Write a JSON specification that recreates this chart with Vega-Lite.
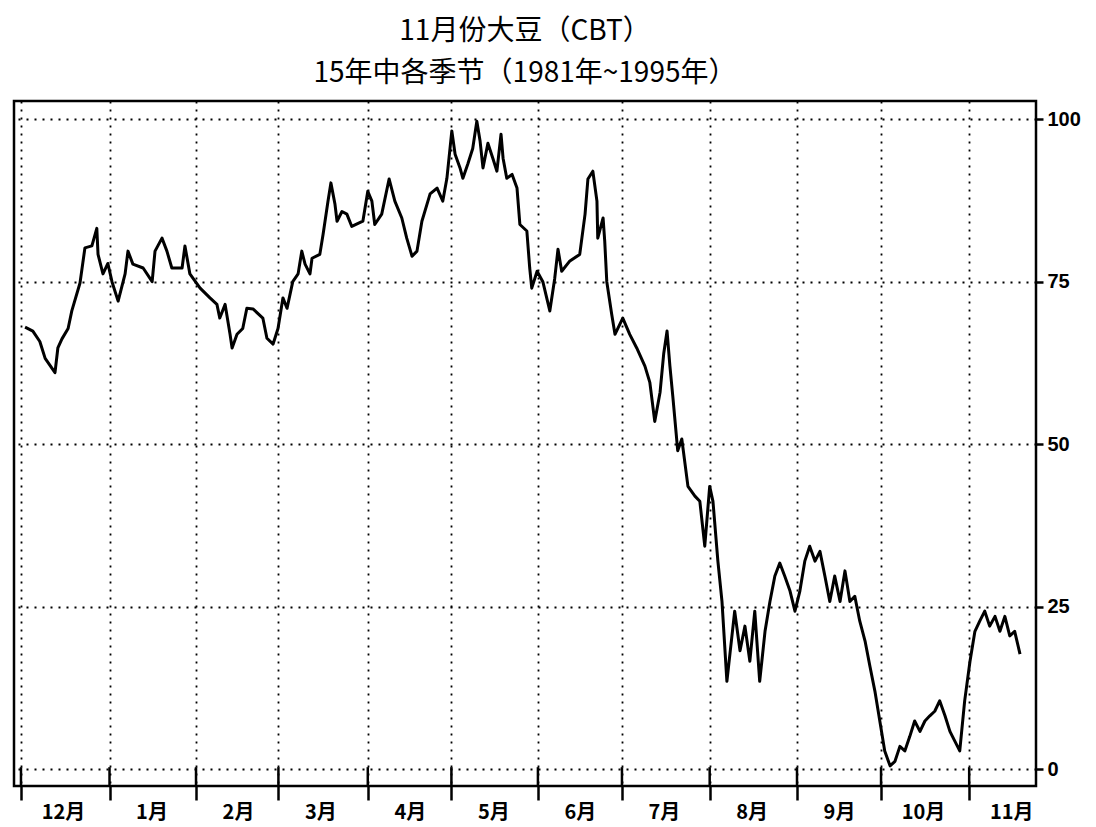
{
  "$schema": "https://vega.github.io/schema/vega-lite/v6.json",
  "width": 1022,
  "height": 685,
  "padding": {"left": 14, "top": 18, "right": 5, "bottom": 5},
  "background": "white",
  "title": {
    "text": ["11月份大豆（CBT）", "15年中各季节（1981年~1995年）"],
    "font": "Noto Sans CJK SC",
    "fontSize": 28,
    "fontWeight": "normal",
    "lineHeight": 42,
    "color": "black",
    "anchor": "middle",
    "offset": 13
  },
  "config": {
    "view": {"stroke": "black", "strokeWidth": 2.5},
    "axis": {
      "gridColor": "black",
      "gridDash": [2, 6],
      "gridWidth": 1.8,
      "gridOpacity": 1,
      "tickColor": "black",
      "domain": false,
      "labelColor": "black",
      "title": null
    }
  },
  "datasets": {
    "bounds": [
      {"b": 0}, {"b": 21.6}, {"b": 42.7}, {"b": 62.8}, {"b": 84.6}, {"b": 105},
      {"b": 126.1}, {"b": 146.6}, {"b": 168}, {"b": 189.3}, {"b": 209.8}, {"b": 231.3}
    ],
    "series": [
      {"d": 1.0, "v": 68.0}, {"d": 2.9, "v": 67.4}, {"d": 4.6, "v": 65.8}, {"d": 5.9, "v": 63.2},
      {"d": 8.3, "v": 61.0}, {"d": 9.0, "v": 64.8}, {"d": 10.0, "v": 66.2}, {"d": 11.5, "v": 67.8},
      {"d": 12.4, "v": 70.5}, {"d": 14.4, "v": 74.8}, {"d": 15.6, "v": 80.2}, {"d": 17.3, "v": 80.5},
      {"d": 18.5, "v": 83.2}, {"d": 18.8, "v": 79.2}, {"d": 20.0, "v": 76.2}, {"d": 21.2, "v": 77.8},
      {"d": 22.2, "v": 75.0}, {"d": 23.7, "v": 72.0}, {"d": 25.4, "v": 76.2}, {"d": 26.1, "v": 79.7},
      {"d": 27.3, "v": 77.7}, {"d": 29.8, "v": 77.1}, {"d": 32.0, "v": 75.0}, {"d": 32.7, "v": 79.7},
      {"d": 34.4, "v": 81.7}, {"d": 35.6, "v": 79.7}, {"d": 36.8, "v": 77.1}, {"d": 39.3, "v": 77.1},
      {"d": 40.0, "v": 80.5}, {"d": 41.2, "v": 76.2}, {"d": 43.7, "v": 74.0}, {"d": 46.1, "v": 72.5},
      {"d": 47.8, "v": 71.5}, {"d": 48.5, "v": 69.4}, {"d": 49.8, "v": 71.5}, {"d": 51.0, "v": 66.9},
      {"d": 51.5, "v": 64.8}, {"d": 52.7, "v": 66.9}, {"d": 54.1, "v": 67.8}, {"d": 55.1, "v": 70.9},
      {"d": 56.6, "v": 70.8}, {"d": 59.0, "v": 69.4}, {"d": 60.0, "v": 66.3}, {"d": 61.5, "v": 65.4},
      {"d": 62.7, "v": 67.8}, {"d": 63.9, "v": 72.5}, {"d": 64.9, "v": 70.9}, {"d": 66.3, "v": 75.0},
      {"d": 67.6, "v": 76.2}, {"d": 68.5, "v": 79.7}, {"d": 69.3, "v": 77.7}, {"d": 70.5, "v": 76.2},
      {"d": 71.0, "v": 78.6}, {"d": 72.9, "v": 79.2}, {"d": 73.7, "v": 82.3}, {"d": 74.9, "v": 87.4},
      {"d": 75.6, "v": 90.2}, {"d": 76.6, "v": 86.9}, {"d": 77.1, "v": 84.3}, {"d": 78.3, "v": 85.8},
      {"d": 79.5, "v": 85.4}, {"d": 80.7, "v": 83.5}, {"d": 83.4, "v": 84.3}, {"d": 84.6, "v": 88.9},
      {"d": 85.6, "v": 87.4}, {"d": 86.3, "v": 83.8}, {"d": 88.0, "v": 85.4}, {"d": 89.8, "v": 90.8},
      {"d": 91.2, "v": 87.4}, {"d": 92.9, "v": 84.8}, {"d": 94.1, "v": 81.7}, {"d": 95.4, "v": 78.9},
      {"d": 96.6, "v": 79.7}, {"d": 97.8, "v": 84.3}, {"d": 99.8, "v": 88.5}, {"d": 101.5, "v": 89.4},
      {"d": 102.9, "v": 87.4}, {"d": 103.9, "v": 90.9}, {"d": 105.1, "v": 98.2}, {"d": 105.9, "v": 94.6},
      {"d": 107.1, "v": 92.5}, {"d": 107.8, "v": 90.9}, {"d": 109.0, "v": 93.1}, {"d": 110.2, "v": 95.5},
      {"d": 111.2, "v": 99.7}, {"d": 112.0, "v": 96.6}, {"d": 112.7, "v": 92.5}, {"d": 113.9, "v": 96.3},
      {"d": 115.1, "v": 94.0}, {"d": 116.1, "v": 92.0}, {"d": 117.1, "v": 97.7}, {"d": 117.6, "v": 94.0},
      {"d": 118.5, "v": 90.9}, {"d": 119.8, "v": 91.5}, {"d": 121.0, "v": 89.4}, {"d": 121.7, "v": 83.8},
      {"d": 123.4, "v": 82.8}, {"d": 124.1, "v": 77.1}, {"d": 124.6, "v": 74.0}, {"d": 125.9, "v": 76.6},
      {"d": 127.3, "v": 75.0}, {"d": 129.0, "v": 70.5}, {"d": 130.2, "v": 75.5}, {"d": 131.0, "v": 80.0},
      {"d": 131.9, "v": 76.6}, {"d": 133.9, "v": 78.2}, {"d": 136.3, "v": 79.2}, {"d": 137.6, "v": 85.4},
      {"d": 138.3, "v": 90.8}, {"d": 139.5, "v": 92.0}, {"d": 140.5, "v": 87.4}, {"d": 140.7, "v": 81.7},
      {"d": 142.0, "v": 84.8}, {"d": 142.4, "v": 81.2}, {"d": 142.9, "v": 75.0}, {"d": 144.1, "v": 70.0},
      {"d": 144.9, "v": 66.9}, {"d": 146.8, "v": 69.4}, {"d": 148.5, "v": 66.9}, {"d": 150.2, "v": 64.8},
      {"d": 152.2, "v": 62.0}, {"d": 153.4, "v": 59.5}, {"d": 154.6, "v": 53.5}, {"d": 155.9, "v": 58.0},
      {"d": 156.8, "v": 64.0}, {"d": 157.6, "v": 67.4}, {"d": 158.3, "v": 62.0}, {"d": 159.0, "v": 57.4},
      {"d": 160.2, "v": 49.0}, {"d": 161.2, "v": 50.8}, {"d": 162.7, "v": 43.5}, {"d": 164.4, "v": 42.0},
      {"d": 165.6, "v": 41.2}, {"d": 166.8, "v": 34.3}, {"d": 168.0, "v": 43.5}, {"d": 168.8, "v": 41.2},
      {"d": 170.0, "v": 32.0}, {"d": 171.0, "v": 25.8}, {"d": 172.2, "v": 13.5}, {"d": 174.1, "v": 24.3},
      {"d": 175.4, "v": 18.2}, {"d": 176.6, "v": 22.0}, {"d": 177.8, "v": 16.6}, {"d": 179.0, "v": 24.3},
      {"d": 180.2, "v": 13.5}, {"d": 181.5, "v": 21.2}, {"d": 182.7, "v": 25.8}, {"d": 183.9, "v": 29.7},
      {"d": 185.1, "v": 31.7}, {"d": 186.3, "v": 29.7}, {"d": 187.6, "v": 27.4}, {"d": 188.8, "v": 24.3},
      {"d": 190.0, "v": 27.4}, {"d": 191.2, "v": 32.0}, {"d": 192.4, "v": 34.3}, {"d": 193.7, "v": 32.0},
      {"d": 194.9, "v": 33.5}, {"d": 196.1, "v": 29.7}, {"d": 197.3, "v": 25.8}, {"d": 198.5, "v": 29.7},
      {"d": 199.8, "v": 25.8}, {"d": 201.0, "v": 30.5}, {"d": 202.2, "v": 25.8}, {"d": 203.4, "v": 26.6},
      {"d": 204.6, "v": 22.8}, {"d": 205.9, "v": 19.7}, {"d": 207.1, "v": 15.8}, {"d": 208.3, "v": 12.0},
      {"d": 209.5, "v": 7.4}, {"d": 210.7, "v": 2.8}, {"d": 212.0, "v": 0.5}, {"d": 213.2, "v": 1.2},
      {"d": 214.4, "v": 3.5}, {"d": 215.6, "v": 2.8}, {"d": 216.8, "v": 5.0}, {"d": 218.0, "v": 7.4},
      {"d": 219.3, "v": 5.8}, {"d": 220.5, "v": 7.4}, {"d": 221.7, "v": 8.2}, {"d": 222.9, "v": 8.9},
      {"d": 224.1, "v": 10.5}, {"d": 225.4, "v": 8.2}, {"d": 226.6, "v": 5.8}, {"d": 227.8, "v": 4.3},
      {"d": 229.0, "v": 2.8}, {"d": 230.2, "v": 10.5}, {"d": 231.5, "v": 16.6}, {"d": 232.7, "v": 21.2},
      {"d": 233.9, "v": 22.8}, {"d": 235.1, "v": 24.3}, {"d": 236.3, "v": 22.0}, {"d": 237.6, "v": 23.5},
      {"d": 238.8, "v": 21.2}, {"d": 240.0, "v": 23.5}, {"d": 241.2, "v": 20.5}, {"d": 242.4, "v": 21.2},
      {"d": 243.7, "v": 17.7}
    ]
  },
  "layer": [
    {
      "data": {"name": "bounds"},
      "mark": {"type": "rule", "color": "black", "strokeWidth": 2.5},
      "encoding": {
        "x": {"field": "b", "type": "quantitative", "scale": {"domain": [-1.7, 247.6], "nice": false, "zero": false}},
        "y": {"datum": -2.6, "type": "quantitative", "scale": {"domain": [-2.6, 102.8], "nice": false, "zero": false}},
        "y2": {"datum": 0.3}
      }
    },
    {
      "data": {"name": "series"},
      "mark": {"type": "line", "color": "black", "strokeWidth": 3, "strokeJoin": "round"},
      "encoding": {
        "x": {
          "field": "d",
          "type": "quantitative",
          "scale": {"domain": [-1.7, 247.6], "nice": false, "zero": false},
          "axis": {
            "values": [0, 21.6, 42.7, 62.8, 84.6, 105, 126.1, 146.6, 168, 189.3, 209.8, 231.3],
            "labelExpr": "datum.value < 10 ? '12月' : datum.value < 30 ? '1月' : datum.value < 50 ? '2月' : datum.value < 70 ? '3月' : datum.value < 95 ? '4月' : datum.value < 115 ? '5月' : datum.value < 135 ? '6月' : datum.value < 155 ? '7月' : datum.value < 180 ? '8月' : datum.value < 200 ? '9月' : datum.value < 220 ? '10月' : '11月'",
            "labelOffset": 42,
            "labelFont": "Noto Sans CJK SC",
            "labelFontWeight": "bold",
            "labelFontSize": 20,
            "labelPadding": 2,
            "labelOverlap": false,
            "labelFlush": false,
            "labelBound": false,
            "tickSize": 14,
            "tickWidth": 2.5,
            "grid": true
          }
        },
        "y": {
          "field": "v",
          "type": "quantitative",
          "scale": {"domain": [-2.6, 102.8], "nice": false, "zero": false},
          "axis": {
            "orient": "right",
            "values": [0, 25, 50, 75, 100],
            "labelFont": "Liberation Sans",
            "labelFontSize": 20,
            "labelFontWeight": "bold",
            "labelPadding": 4,
            "tickSize": 7,
            "tickWidth": 2.5,
            "grid": true
          }
        }
      }
    }
  ]
}
